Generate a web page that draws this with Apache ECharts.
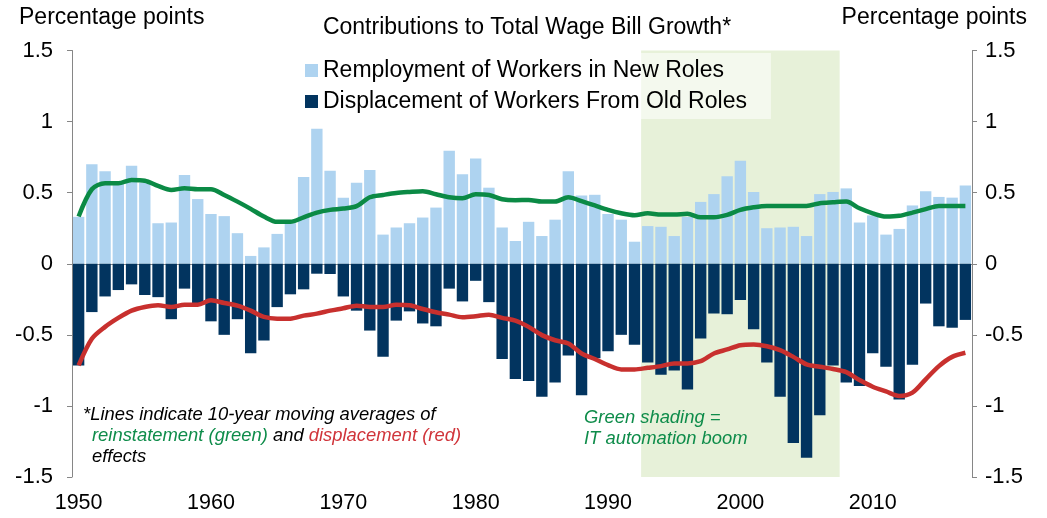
<!DOCTYPE html>
<html><head><meta charset="utf-8">
<script src="https://cdn.jsdelivr.net/npm/echarts@6/dist/echarts.min.js"></script>
<style>html,body{margin:0;padding:0;background:#fff}#c{width:1047px;height:518px}</style>
</head><body><div id="c"></div>
<script>
// ---- data ----
const years = ['1950','1951','1952','1953','1954','1955','1956','1957','1958','1959',
  '1960','1961','1962','1963','1964','1965','1966','1967','1968','1969',
  '1970','1971','1972','1973','1974','1975','1976','1977','1978','1979',
  '1980','1981','1982','1983','1984','1985','1986','1987','1988','1989',
  '1990','1991','1992','1993','1994','1995','1996','1997','1998','1999',
  '2000','2001','2002','2003','2004','2005','2006','2007','2008','2009',
  '2010','2011','2012','2013','2014','2015','2016','2017'];
const reinstatement = [0.33,0.70,0.65,0.58,0.69,0.57,0.285,0.29,0.625,0.455,
  0.35,0.335,0.215,0.055,0.115,0.21,0.285,0.61,0.95,0.655,
  0.465,0.57,0.66,0.205,0.255,0.285,0.325,0.395,0.795,0.63,
  0.74,0.535,0.255,0.16,0.295,0.195,0.31,0.65,0.48,0.485,
  0.35,0.31,0.155,0.265,0.26,0.195,0.33,0.435,0.49,0.615,
  0.725,0.505,0.25,0.255,0.26,0.195,0.49,0.505,0.53,0.29,
  0.34,0.205,0.245,0.41,0.51,0.47,0.465,0.55];
const displacement = [-0.715,-0.34,-0.23,-0.185,-0.145,-0.22,-0.235,-0.39,-0.175,-0.28,
  -0.405,-0.50,-0.39,-0.63,-0.54,-0.305,-0.215,-0.18,-0.07,-0.072,
  -0.23,-0.33,-0.47,-0.655,-0.40,-0.335,-0.42,-0.44,-0.175,-0.265,
  -0.12,-0.27,-0.67,-0.81,-0.825,-0.935,-0.835,-0.645,-0.925,-0.665,
  -0.615,-0.50,-0.57,-0.695,-0.78,-0.75,-0.885,-0.525,-0.35,-0.355,
  -0.255,-0.46,-0.695,-0.935,-1.26,-1.365,-1.065,-0.715,-0.835,-0.86,
  -0.63,-0.725,-0.955,-0.71,-0.28,-0.44,-0.45,-0.395];
const reinstatementMA = [0.332,0.524,0.566,0.566,0.589,0.584,0.547,0.519,0.531,0.524,
  0.524,0.484,0.437,0.386,0.332,0.295,0.295,0.327,0.36,0.379,
  0.388,0.405,0.468,0.484,0.498,0.505,0.51,0.489,0.468,0.461,
  0.489,0.484,0.454,0.447,0.449,0.437,0.437,0.468,0.44,0.41,
  0.379,0.355,0.341,0.355,0.346,0.346,0.351,0.327,0.327,0.344,
  0.379,0.397,0.407,0.407,0.407,0.407,0.426,0.432,0.437,0.39,
  0.355,0.332,0.337,0.36,0.384,0.407,0.407,0.407];
const displacementMA = [-0.715,-0.528,-0.444,-0.381,-0.33,-0.304,-0.292,-0.304,-0.288,-0.288,
  -0.257,-0.276,-0.295,-0.33,-0.374,-0.386,-0.386,-0.365,-0.351,-0.33,
  -0.313,-0.295,-0.304,-0.304,-0.288,-0.292,-0.318,-0.341,-0.358,-0.376,
  -0.369,-0.358,-0.381,-0.4,-0.444,-0.502,-0.538,-0.561,-0.631,-0.67,
  -0.713,-0.743,-0.743,-0.732,-0.72,-0.701,-0.701,-0.685,-0.631,-0.603,
  -0.573,-0.568,-0.58,-0.608,-0.655,-0.708,-0.725,-0.74,-0.762,-0.818,
  -0.865,-0.898,-0.93,-0.907,-0.813,-0.72,-0.655,-0.626];
const yMin = -1.5, yMax = 1.5, yStep = 0.5;
const shadeStartYear = '1993', shadeEndYear = '2007';
const seriesNames = ['Remployment of Workers in New Roles', 'Displacement of Workers From Old Roles'];

// ---- chart ----
const FONT = '"Liberation Sans", Arial, sans-serif';
const AX = '#868686';
const chart = echarts.init(document.getElementById('c'), null, {renderer: 'canvas'});
const i0 = years.indexOf(shadeStartYear), i1 = years.indexOf(shadeEndYear) + 1;

function yAxisDef(pos) {
  return {
    type: 'value', min: yMin, max: yMax, interval: yStep, position: pos,
    axisLine: {show: true, lineStyle: {color: AX, width: 1}},
    axisTick: {show: true, inside: false, length: 5, lineStyle: {color: AX}},
    axisLabel: {color: '#000', fontSize: 22, fontFamily: FONT, margin: pos === 'left' ? 19 : 13},
    splitLine: {show: false}
  };
}

const italic = 'italic 18.4px ' + FONT;
const option = {
  animation: false,
  textStyle: {fontFamily: FONT},
  grid: {left: 72, right: 75, top: 50.5, bottom: 41},
  xAxis: [
    {type: 'category', data: years, boundaryGap: true,
     axisLine: {lineStyle: {color: AX, width: 1}},
     axisTick: {interval: 9, length: 5, lineStyle: {color: AX}},
     axisLabel: {interval: 9, color: '#000', fontSize: 21.5, fontFamily: FONT, margin: 15}},
    {type: 'value', min: 0, max: years.length, show: false}
  ],
  yAxis: [yAxisDef('left'), yAxisDef('right')],
  legend: {
    orient: 'vertical', left: 297, top: 53,
    padding: [6, 24, 6, 8], itemGap: 8, itemWidth: 13, itemHeight: 13,
    backgroundColor: 'rgba(255,255,255,0.55)',
    textStyle: {fontSize: 23, color: '#000', fontFamily: FONT},
    data: [{name: seriesNames[0], icon: 'rect'}, {name: seriesNames[1], icon: 'rect'}]
  },
  graphic: {elements: [
    {type: 'text', z: 100, left: 19, top: 6, style: {text: 'Percentage points', font: '23px ' + FONT, fill: '#000'}},
    {type: 'text', z: 100, right: 20, top: 6, style: {text: 'Percentage points', font: '23px ' + FONT, fill: '#000'}},
    {type: 'text', z: 100, x: 527, y: 16, style: {text: 'Contributions to Total Wage Bill Growth*', font: '23px ' + FONT, fill: '#000', textAlign: 'center', textVerticalAlign: 'top'}},
    {type: 'text', z: 100, x: 83, y: 415, style: {text: '*Lines indicate 10-year moving averages of', font: italic, fill: '#000', textVerticalAlign: 'middle'}},
    {type: 'text', z: 100, x: 92, y: 436, style: {
      text: '{g|reinstatement (green)}{k| and }{r|displacement (red)}', textVerticalAlign: 'middle',
      rich: {g: {font: italic, fill: '#0e8c4a'}, k: {font: italic, fill: '#000'}, r: {font: italic, fill: '#d0343a'}}}},
    {type: 'text', z: 100, x: 92, y: 457, style: {text: 'effects', font: italic, fill: '#000', textVerticalAlign: 'middle'}},
    {type: 'text', z: 100, x: 584, y: 418, style: {text: 'Green shading =', font: italic, fill: '#0e8c4a', textVerticalAlign: 'middle'}},
    {type: 'text', z: 100, x: 584, y: 439, style: {text: 'IT automation boom', font: italic, fill: '#0e8c4a', textVerticalAlign: 'middle'}}
  ]},
  series: [
    {type: 'line', name: 'shade', xAxisIndex: 1, yAxisIndex: 0, data: [[i0, null]], showSymbol: false, z: 0, zlevel: 0,
     markArea: {silent: true, z: 0, itemStyle: {color: '#e7f1d9'}, data: [[{xAxis: i0}, {xAxis: i1}]]}},
    {type: 'bar', name: seriesNames[0], data: reinstatement, barCategoryGap: '14%', barGap: '-100%',
     itemStyle: {color: '#aed3f0'}, z: 2},
    {type: 'bar', name: seriesNames[1], data: displacement, barCategoryGap: '14%', barGap: '-100%',
     itemStyle: {color: '#02345f'}, z: 2},
    {type: 'line', name: 'Reinstatement MA', data: reinstatementMA, smooth: 0.3, showSymbol: false,
     lineStyle: {color: '#0b8a45', width: 4.5}, itemStyle: {color: '#0b8a45'}, z: 3},
    {type: 'line', name: 'Displacement MA', data: displacementMA, smooth: 0.3, showSymbol: false,
     lineStyle: {color: '#c8302e', width: 4.5}, itemStyle: {color: '#c8302e'}, z: 3}
  ]
};
chart.setOption(option);
</script>
</body></html>
